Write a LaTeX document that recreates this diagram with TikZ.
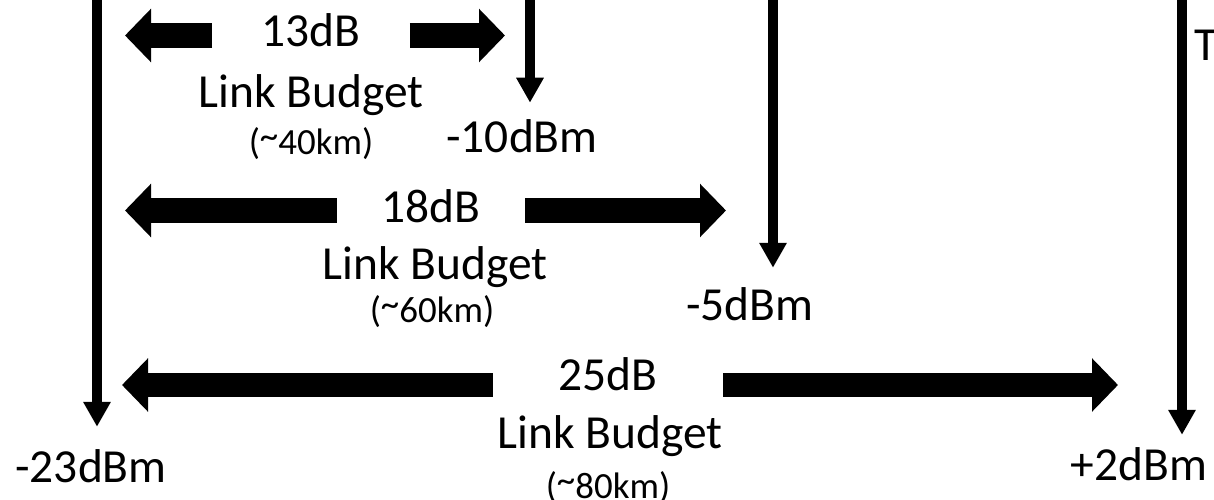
\documentclass[tikz,border=0pt]{standalone}
\usepackage{fontspec}
\setmainfont{Carlito}
\usetikzlibrary{arrows.meta}

\newcommand{\hightilde}{\raisebox{0.3ex}{\textasciitilde}}

\begin{document}
\begin{tikzpicture}[x=0.02cm,y=-0.02cm]

	\tikzstyle{level} = [inner sep=0pt,anchor=base,font=\fontsize{27}{32}\selectfont]
	\tikzstyle{budget} = [inner sep=0pt,anchor=base,font=\fontsize{27}{32}\selectfont]
	\tikzstyle{reach} = [inner sep=0pt,anchor=base,font=\fontsize{21}{25}\selectfont]
	\tikzstyle{drop} = [-{Triangle[length=14.2pt,width=14.8pt]},line width=5.7pt]
	\tikzstyle{band} = [-{Triangle[length=14.8pt,width=29.6pt]},line width=14.2pt]

	\useasboundingbox (0,0) rectangle (1214,500);
	\clip (0,0) rectangle (1214,500);

	% power levels
	\node[level] (m23) at (91,482) {-23dBm};
	\node[level] (m10) at (522,153) {-10dBm};
	\node[level] (m5) at (750,320) {-5dBm};
	\node[level] (p2) at (1139,480) {+2dBm};
	\node[level,anchor=base west] (tx) at (1194,61) {T};

	\coordinate (s23) at (97,-20);
	\coordinate (s10) at (530,-20);
	\coordinate (s5) at (773,-20);
	\coordinate (s2) at (1182,-20);

	\draw[drop,shorten >=12.5pt] (s23) -- (s23 |- m23.north);
	\draw[drop,shorten >=9.7pt] (s10) -- (s10 |- m10.north);
	\draw[drop,shorten >=10.8pt] (s5) -- (s5 |- m5.north);
	\draw[drop,shorten >=6.8pt] (s2) -- (s2 |- p2.north);

	% link budgets
	\node[budget,inner xsep=27.9pt] (db13) at (311,47) {13dB};
	\node[budget] (lb13) at (311,108) {Link Budget};
	\node[reach] (km40) at (311,154) {(\hightilde40km)};

	\node[budget,inner xsep=25.3pt] (db18) at (431,222) {18dB};
	\node[budget] (lb18) at (435,279) {Link Budget};
	\node[reach] (km60) at (432,322) {(\hightilde60km)};

	\node[budget,inner xsep=37.3pt] (db25) at (608,390) {25dB};
	\node[budget] (lb25) at (610,448) {Link Budget};
	\node[reach] (km80) at (608,498) {(\hightilde80km)};

	\coordinate (w13) at (125,35.5);
	\coordinate (e13) at (505,35.5);
	\coordinate (w18) at (125,210.5);
	\coordinate (e18) at (726,210.5);
	\coordinate (w25) at (122,385);
	\coordinate (e25) at (1118,385);

	\draw[band] (db13.west |- w13) -- (w13);
	\draw[band] (db13.east |- e13) -- (e13);
	\draw[band] (db18.west |- w18) -- (w18);
	\draw[band] (db18.east |- e18) -- (e18);
	\draw[band] (db25.west |- w25) -- (w25);
	\draw[band] (db25.east |- e25) -- (e25);

\end{tikzpicture}
\end{document}
